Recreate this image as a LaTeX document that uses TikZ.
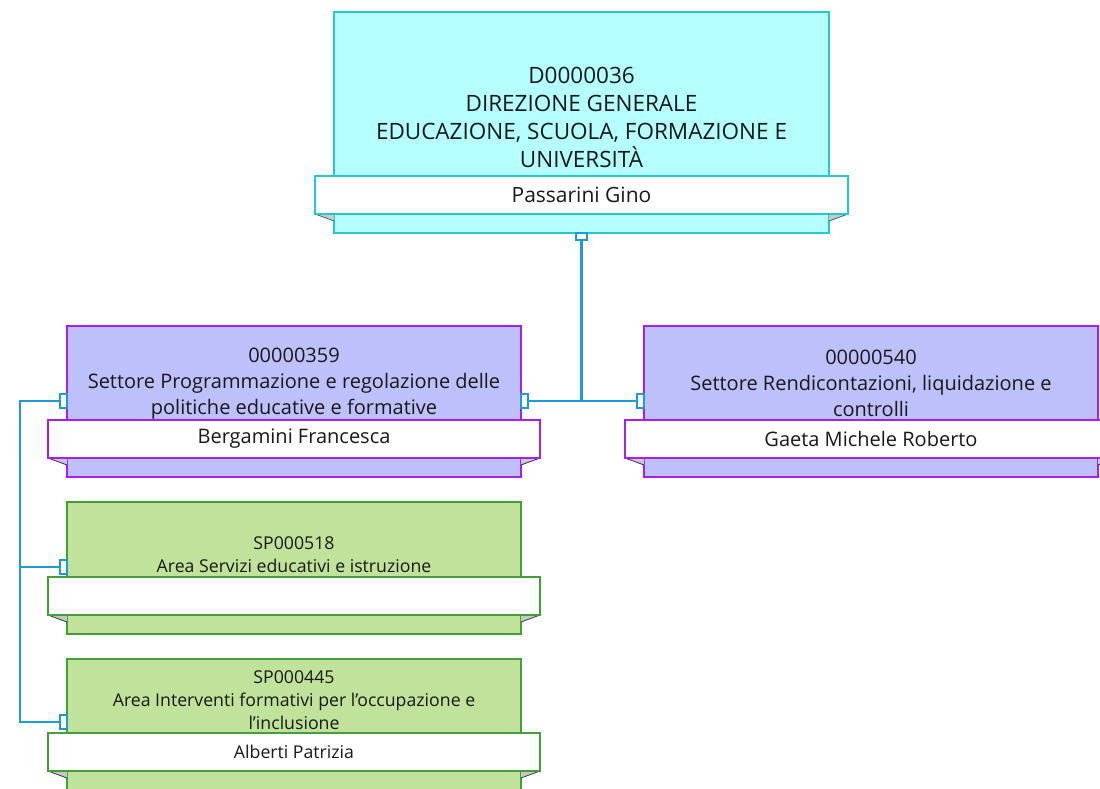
\documentclass[tikz,border=0pt]{standalone}
\usepackage{fontspec}
\setmainfont{Open Sans}
\definecolor{cyanfill}{RGB}{181,255,255}
\definecolor{cyanline}{RGB}{38,200,205}
\definecolor{purpfill}{RGB}{189,192,250}
\definecolor{purpline}{RGB}{165,32,240}
\definecolor{greenfill}{RGB}{192,226,154}
\definecolor{greenline}{RGB}{68,158,58}
\definecolor{connblue}{RGB}{30,155,215}
\definecolor{foldgray}{RGB}{200,200,200}
\definecolor{txt}{RGB}{25,25,25}
\tikzset{
  orgbox/.style={rectangle, draw, line width=1.1pt, inner sep=0pt, outer sep=0pt},
  banner/.style={rectangle, draw, fill=white, line width=1.1pt, inner sep=0pt, outer sep=0pt, text=txt},
  titletext/.style={align=center, text=txt, inner sep=0pt},
  port/.style={rectangle, draw=connblue, fill=white, line width=1.8pt, inner sep=0pt, outer sep=0pt},
  conn/.style={draw=connblue, line width=2.4pt},
  capsfont/.style={font=\fontsize{22.5}{28}\selectfont},
  bigfont/.style={font=\fontsize{21}{28}\selectfont},
  midfont/.style={font=\fontsize{20}{26}\selectfont},
  smallfont/.style={font=\fontsize{17.7}{23}\selectfont},
}
\begin{document}
\begin{tikzpicture}[x=1pt,y=-1pt]
\useasboundingbox (0,0) rectangle (1100,788);

% ---------- top box
\node[orgbox, fill=cyanfill, draw=cyanline, minimum width=495, minimum height=221] (top) at (581.5,122.5) {};
\node[titletext, capsfont] (toptitle) at (581.5,117.5) {D0000036\\DIREZIONE GENERALE\\EDUCAZIONE, SCUOLA, FORMAZIONE E\\UNIVERSITÀ};
\fill[foldgray] (315,214) coordinate (topfl) -- (334,214) -- (334,221) -- cycle;
\fill[foldgray] (848,214) coordinate (topfr) -- (829,214) -- (829,221) -- cycle;
\draw[cyanline!60!black, line width=0.8pt] (topfl) -- ++(19,7);
\draw[cyanline!60!black, line width=0.8pt] (topfr) -- ++(-19,7);
\node[banner, draw=cyanline, bigfont, minimum width=533, minimum height=38] (topban) at (581.5,195) {Passarini Gino};
\node[port, minimum width=11, minimum height=7, anchor=north] (ptop) at (top.south) {};

% ---------- box 00000359
\node[orgbox, fill=purpfill, draw=purpline, minimum width=454, minimum height=151] (b359) at (294,401.5) {};
\node[titletext, midfont] (t359) at (294,384) {00000359\\Settore Programmazione e regolazione delle\\politiche educative e formative};
\fill[foldgray] (48,458) coordinate (f359l) -- (67,458) -- (67,465) -- cycle;
\fill[foldgray] (540,458) coordinate (f359r) -- (521,458) -- (521,465) -- cycle;
\draw[purpline!55!black, line width=0.8pt] (f359l) -- ++(19,7);
\draw[purpline!55!black, line width=0.8pt] (f359r) -- ++(-19,7);
\node[banner, draw=purpline, midfont, minimum width=492, minimum height=38] (ban359) at (294,439) {\raisebox{-1pt}{Bergamini Francesca}};
\node[port, minimum width=7, minimum height=14, anchor=east] (p359l) at (67,401) {};
\node[port, minimum width=7, minimum height=14, anchor=west] (p359r) at (521,401) {};

% ---------- box 00000540
\node[orgbox, fill=purpfill, draw=purpline, minimum width=454, minimum height=151] (b540) at (871,401.5) {};
\node[titletext, midfont] (t540) at (871,383) {00000540\\Settore Rendicontazioni, liquidazione e\\controlli};
\fill[foldgray] (625,458) coordinate (f540l) -- (644,458) -- (644,465) -- cycle;
\fill[foldgray] (1117,458) coordinate (f540r) -- (1098,458) -- (1098,465) -- cycle;
\draw[purpline!55!black, line width=0.8pt] (f540l) -- ++(19,7);
\draw[purpline!55!black, line width=0.8pt] (f540r) -- ++(-19,7);
\node[banner, draw=purpline, midfont, minimum width=492, minimum height=38] (ban540) at (871,439) {Gaeta Michele Roberto};
\node[port, minimum width=7, minimum height=14, anchor=east] (p540l) at (644,401) {};

% ---------- box SP000518
\node[orgbox, fill=greenfill, draw=greenline, minimum width=454, minimum height=132] (b518) at (294,568) {};
\node[titletext, smallfont] (t518) at (294,555) {SP000518\\Area Servizi educativi e istruzione};
\fill[foldgray] (48,615) coordinate (f518l) -- (67,615) -- (67,622) -- cycle;
\fill[foldgray] (540,615) coordinate (f518r) -- (521,615) -- (521,622) -- cycle;
\draw[greenline!50!black, line width=0.8pt] (f518l) -- ++(19,7);
\draw[greenline!50!black, line width=0.8pt] (f518r) -- ++(-19,7);
\node[banner, draw=greenline, smallfont, minimum width=492, minimum height=38] (ban518) at (294,596) {};
\node[port, minimum width=7, minimum height=14, anchor=east] (p518l) at (67,567) {};

% ---------- box SP000445
\node[orgbox, fill=greenfill, draw=greenline, minimum width=454, minimum height=140] (b445) at (294,729) {};
\node[titletext, smallfont] (t445) at (294,700) {SP000445\\Area Interventi formativi per l’occupazione e\\l’inclusione};
\fill[foldgray] (48,771) coordinate (f445l) -- (67,771) -- (67,778) -- cycle;
\fill[foldgray] (540,771) coordinate (f445r) -- (521,771) -- (521,778) -- cycle;
\draw[greenline!50!black, line width=0.8pt] (f445l) -- ++(19,7);
\draw[greenline!50!black, line width=0.8pt] (f445r) -- ++(-19,7);
\node[banner, draw=greenline, smallfont, minimum width=492, minimum height=38] (ban445) at (294,752) {Alberti Patrizia};
\node[port, minimum width=7, minimum height=14, anchor=east] (p445l) at (67,722) {};

% ---------- connectors
\coordinate (lbus) at (20,401);
\draw[conn] (ptop.south) -- (ptop.south |- p359r.east);
\draw[conn] (p359r.east) -- (p540l.west);
\draw[conn] (p359l.west) -- (lbus) -- (lbus |- p445l.west) -- (p445l.west);
\draw[conn] (lbus |- p518l.west) -- (p518l.west);
\end{tikzpicture}
\end{document}
